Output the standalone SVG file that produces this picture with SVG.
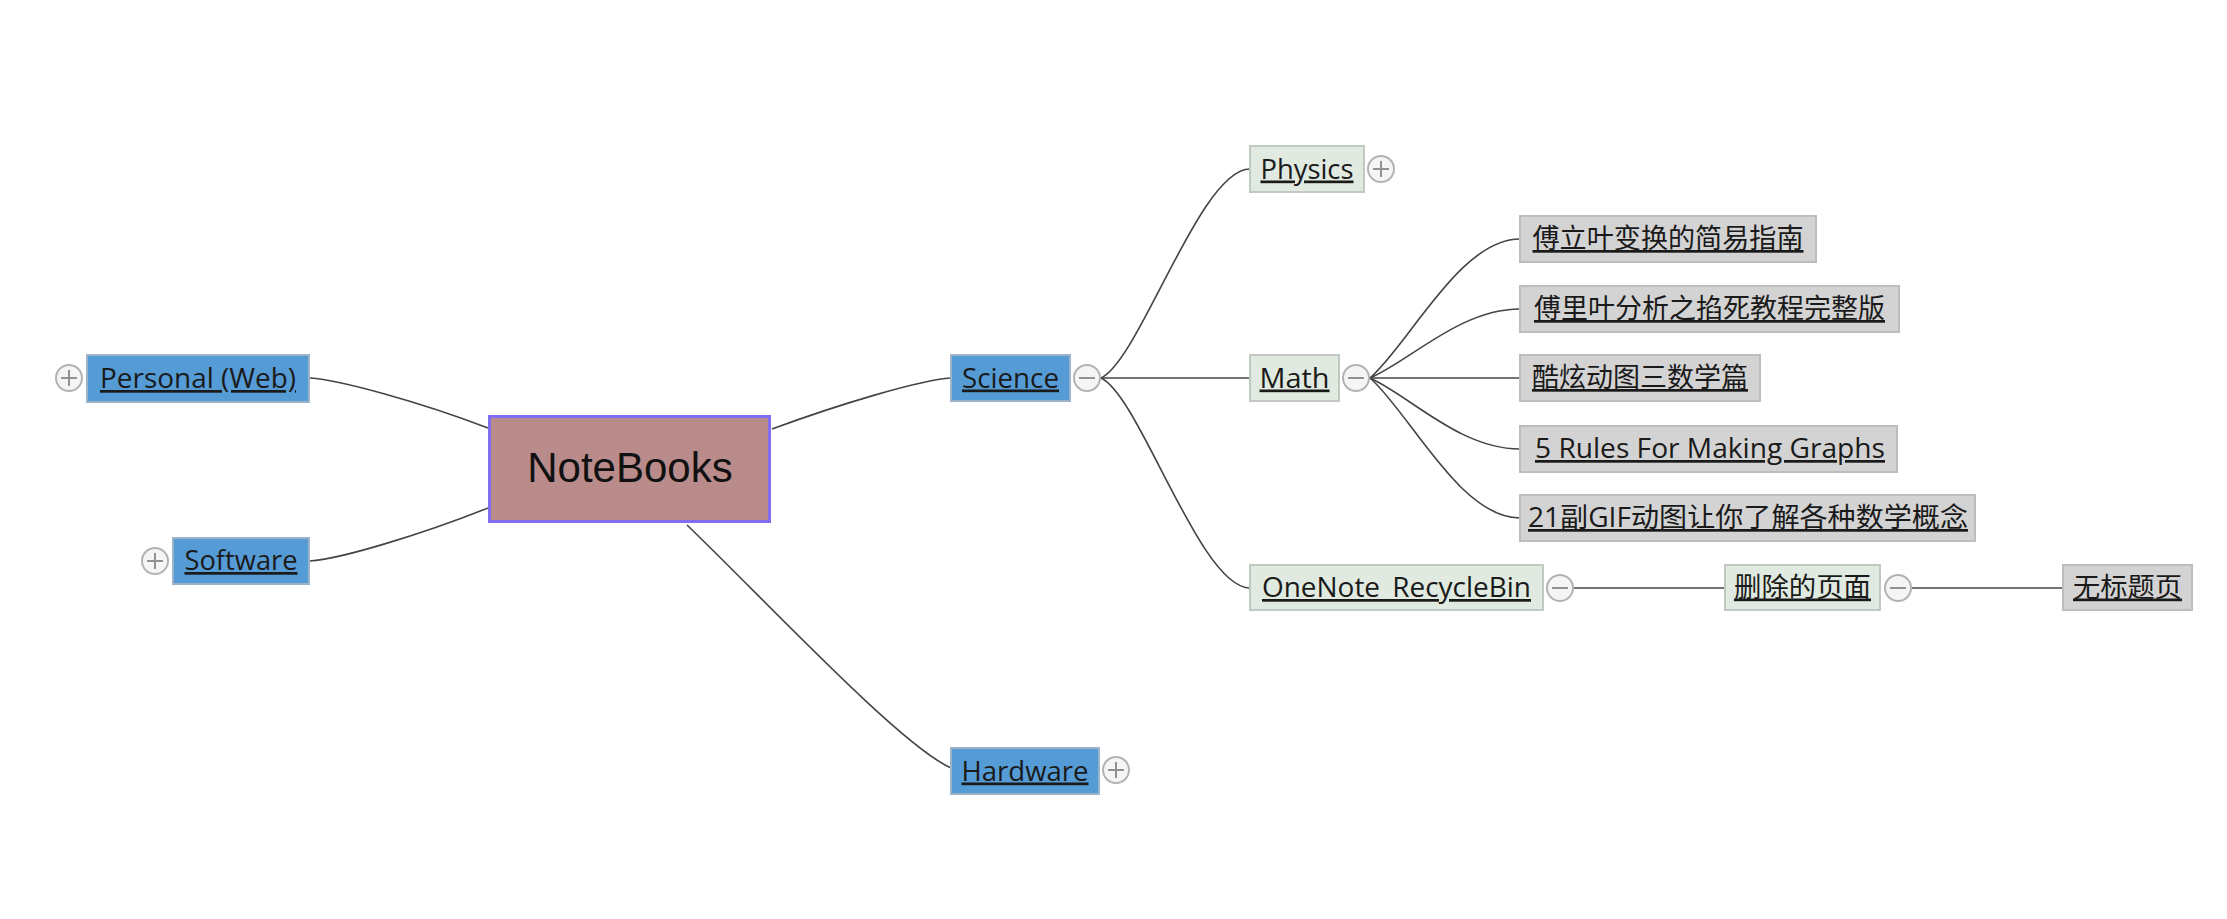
<svg xmlns="http://www.w3.org/2000/svg" width="2227" height="919" viewBox="0 0 2227 919">
<style>
  .lbl { font-family: "Open Sans", "Noto Sans CJK SC", sans-serif; font-size: 27px; fill: #1a1a1a; text-anchor: middle; text-decoration: underline; }
  .root { font-family: "Liberation Sans", Arial, sans-serif; font-size: 42px; fill: #111; text-anchor: middle; }
  .blue { fill: #559bd5; stroke: #9db3c9; stroke-width: 2; }
  .green { fill: #e0eae0; stroke: #c2c9c2; stroke-width: 2; }
  .gray { fill: #d3d3d3; stroke: #bdbdbd; stroke-width: 2; }
  .tog { fill: #f5f5f5; stroke: #b3b3b3; stroke-width: 2; }
  .sign { stroke: #929292; stroke-width: 2; fill: none; }
  .conn { fill: none; stroke: #444; stroke-width: 1.6; }
</style>
<defs>
  <g id="plus"><circle class="tog" cx="0" cy="0" r="13"/><path class="sign" d="M -8 0 H 8 M 0 -8 V 8"/></g>
  <g id="minus"><circle class="tog" cx="0" cy="0" r="13"/><path class="sign" d="M -8 0 H 8"/></g>
</defs>
<rect width="2227" height="919" fill="#ffffff"/>
<g id="connectors">
  <path class="conn" d="M 310 378 C 340 380, 420 402, 488 428"/>
  <path class="conn" d="M 310 561 C 340 559, 420 535, 488 508"/>
  <path class="conn" d="M 772 429 C 840 404, 920 380, 951 378"/>
  <path class="conn" d="M 687 525 C 770 605, 900 745, 951 768"/>
  <path class="conn" d="M 1101 378 C 1140 360, 1200 169, 1250 169"/>
  <path class="conn" d="M 1101 378 H 1250"/>
  <path class="conn" d="M 1101 378 C 1140 396, 1200 588, 1250 588"/>
  <path class="conn" d="M 1370 378 C 1410 343, 1460 239, 1520 239"/>
  <path class="conn" d="M 1370 378 C 1410 361, 1460 309, 1520 309"/>
  <path class="conn" d="M 1370 378 H 1520"/>
  <path class="conn" d="M 1370 378 C 1410 396, 1460 449, 1520 449"/>
  <path class="conn" d="M 1370 378 C 1410 413, 1460 518, 1520 518"/>
  <path class="conn" d="M 1574 588 H 1725"/>
  <path class="conn" d="M 1912 588 H 2063"/>
</g>
<g id="node-notebooks">
  <rect x="489.5" y="416.5" width="280" height="105" fill="#b98b8a" stroke="#7f6ff0" stroke-width="3"/>
  <text class="root" x="630" y="482">NoteBooks</text>
</g>
<g id="node-personal">
  <rect class="blue" x="87" y="355" width="222" height="47"/>
  <text class="lbl" x="198" y="388" textLength="196" lengthAdjust="spacingAndGlyphs">Personal (Web)</text>
  <use href="#plus" x="69" y="378"/>
</g>
<g id="node-software">
  <rect class="blue" x="173" y="538" width="136" height="46"/>
  <text class="lbl" x="241" y="570" textLength="113" lengthAdjust="spacingAndGlyphs">Software</text>
  <use href="#plus" x="155" y="561"/>
</g>
<g id="node-science">
  <rect class="blue" x="951" y="355" width="119" height="46"/>
  <text class="lbl" x="1010.5" y="387.5" textLength="97" lengthAdjust="spacingAndGlyphs">Science</text>
  <use href="#minus" x="1087" y="378"/>
</g>
<g id="node-hardware">
  <rect class="blue" x="951" y="748" width="148" height="46"/>
  <text class="lbl" x="1025" y="780.5" textLength="127" lengthAdjust="spacingAndGlyphs">Hardware</text>
  <use href="#plus" x="1116" y="770"/>
</g>
<g id="node-physics">
  <rect class="green" x="1250" y="146" width="114" height="46"/>
  <text class="lbl" x="1307" y="178.5" textLength="93" lengthAdjust="spacingAndGlyphs">Physics</text>
  <use href="#plus" x="1381" y="169"/>
</g>
<g id="node-math">
  <rect class="green" x="1250" y="355" width="89" height="46"/>
  <text class="lbl" x="1294.5" y="387.5" textLength="70" lengthAdjust="spacingAndGlyphs">Math</text>
  <use href="#minus" x="1356" y="378"/>
</g>
<g id="node-recyclebin">
  <rect class="green" x="1250" y="565" width="293" height="45"/>
  <text class="lbl" x="1396.5" y="597" textLength="269" lengthAdjust="spacingAndGlyphs">OneNote_RecycleBin</text>
  <use href="#minus" x="1560" y="588"/>
</g>
<g id="node-deleted">
  <rect class="green" x="1725" y="565" width="155" height="45"/>
  <text class="lbl" x="1802.5" y="596.5" textLength="137" lengthAdjust="spacingAndGlyphs">删除的页面</text>
  <use href="#minus" x="1898" y="588"/>
</g>
<g id="node-untitled">
  <rect class="gray" x="2063" y="565" width="129" height="45"/>
  <text class="lbl" x="2127.5" y="596.5" textLength="109" lengthAdjust="spacingAndGlyphs">无标题页</text>
</g>
<g id="node-fourier1">
  <rect class="gray" x="1520" y="216" width="296" height="46"/>
  <text class="lbl" x="1668" y="248" textLength="271" lengthAdjust="spacingAndGlyphs">傅立叶变换的简易指南</text>
</g>
<g id="node-fourier2">
  <rect class="gray" x="1520" y="286" width="379" height="46"/>
  <text class="lbl" x="1709.5" y="318" textLength="351" lengthAdjust="spacingAndGlyphs">傅里叶分析之掐死教程完整版</text>
</g>
<g id="node-cool">
  <rect class="gray" x="1520" y="355" width="240" height="46"/>
  <text class="lbl" x="1640" y="387" textLength="216" lengthAdjust="spacingAndGlyphs">酷炫动图三数学篇</text>
</g>
<g id="node-rules">
  <rect class="gray" x="1520" y="426" width="377" height="46"/>
  <text class="lbl" x="1710" y="458" textLength="350" lengthAdjust="spacingAndGlyphs">5 Rules For Making Graphs</text>
</g>
<g id="node-gif">
  <rect class="gray" x="1520" y="495" width="455" height="46"/>
  <text class="lbl" x="1748" y="527" textLength="440" lengthAdjust="spacingAndGlyphs">21副GIF动图让你了解各种数学概念</text>
</g>
</svg>
